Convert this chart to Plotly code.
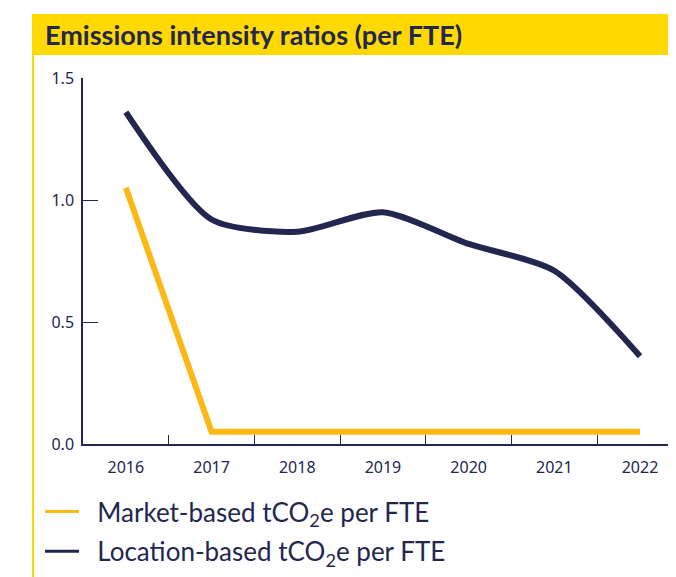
import plotly.graph_objects as go

# data
years = ["2016", "2017", "2018", "2019", "2020", "2021", "2022"]
market_based = [1.05, 0.05, 0.05, 0.05, 0.05, 0.05, 0.05]
location_based = [1.36, 0.92, 0.87, 0.95, 0.82, 0.71, 0.36]

NAVY = "#23274F"
GOLD = "#FCB916"
BAND = "#FFD900"
FONT = "Lato"
TICKFONT = "Noto Sans"

# the page body adds an 8px margin, so the figure is drawn 8px smaller
OFF = 8
W, H = 676 - OFF, 577 - OFF
# plot area in page pixels
L, R, T, B = 83, 676, 78, 444


def px_x(px):
    return (px - L) / (R - L)


def px_y(py):
    return (B - py) / (B - T)


fig = go.Figure()

fig.add_trace(go.Scatter(
    x=years, y=market_based, mode="lines", name="Market-based tCO<sub>2</sub>e per FTE",
    line=dict(color=GOLD, width=6), showlegend=False, hoverinfo="skip"
))
fig.add_trace(go.Scatter(
    x=years, y=location_based, mode="lines", name="Location-based tCO<sub>2</sub>e per FTE",
    line=dict(color=NAVY, width=6, shape="spline", smoothing=0.7), showlegend=False,
    hoverinfo="skip"
))

# legend entries with thinner lines
fig.add_trace(go.Scatter(
    x=[None], y=[None], mode="lines", name="\u00a0\u00a0Market-based tCO<sub>2</sub>e per FTE",
    line=dict(color=GOLD, width=3), legendgroup="a"
))
fig.add_trace(go.Scatter(
    x=[None], y=[None], mode="lines", name="\u00a0\u00a0Location-based tCO<sub>2</sub>e per FTE",
    line=dict(color=NAVY, width=3), legendgroup="b"
))

# yellow title band and left border
fig.add_shape(type="rect", xref="paper", yref="paper",
              x0=px_x(32), x1=px_x(680), y0=px_y(55), y1=px_y(14),
              fillcolor=BAND, line_width=0, layer="below")
fig.add_shape(type="line", xref="paper", yref="paper",
              x0=px_x(33), x1=px_x(33), y0=px_y(55), y1=px_y(580),
              line=dict(color=BAND, width=2), layer="below")

fig.add_annotation(
    text="<b>Emissions intensity ratios (per FTE)</b>",
    xref="paper", yref="paper", x=px_x(43), y=px_y(35),
    xanchor="left", yanchor="middle", showarrow=False,
    font=dict(family=FONT, size=27, color=NAVY)
)

fig.update_layout(
    width=W, height=H,
    margin=dict(l=L - OFF, r=676 - R, t=T - OFF, b=577 - B),
    paper_bgcolor="white", plot_bgcolor="white",
    font=dict(family=FONT, color=NAVY),
    showlegend=True,
    legend=dict(
        x=px_x(40), y=px_y(488), xanchor="left", yanchor="top",
        font=dict(family=FONT, size=26, color=NAVY),
        bgcolor="rgba(0,0,0,0)", tracegroupgap=3, itemwidth=34
    ),
    xaxis=dict(
        type="category", range=[-0.5, 6.42], tickson="boundaries",
        ticks="inside", ticklen=9, tickcolor=NAVY, tickwidth=1,
        showline=True, linecolor=NAVY, linewidth=1.5,
        showgrid=False, zeroline=False,
        tickfont=dict(family=TICKFONT, size=16, color=NAVY), ticklabelstandoff=8
    ),
    yaxis=dict(
        range=[0, 1.5], tickvals=[0, 0.5, 1.0, 1.5], ticktext=["0.0", "0.5", "1.0", "1.5"],
        ticks="inside", ticklen=15, tickcolor=NAVY, tickwidth=1,
        showline=True, linecolor=NAVY, linewidth=1.5,
        showgrid=False, zeroline=False,
        tickfont=dict(family=TICKFONT, size=16, color=NAVY), ticklabelstandoff=4
    ),
)
fig.update_traces(cliponaxis=False)

fig.write_html("out.html")
